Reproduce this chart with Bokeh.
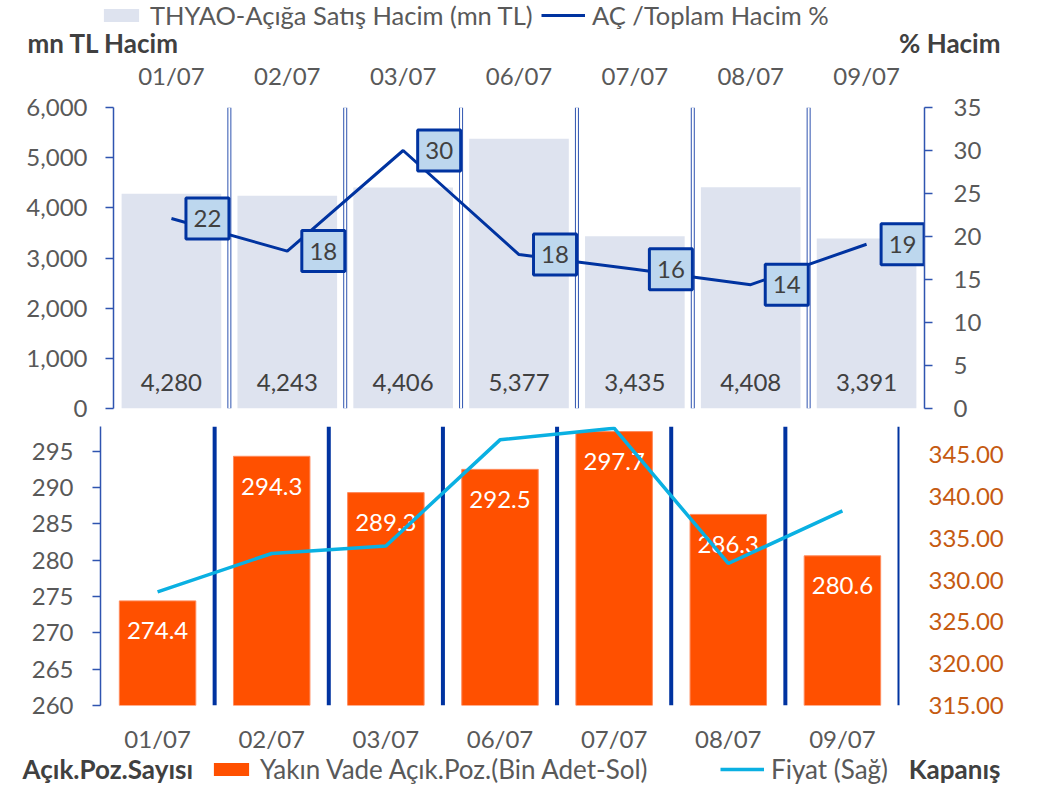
from bokeh.plotting import figure
from bokeh.layouts import column
from bokeh.models import (Range1d, LinearAxis, FixedTicker, NumeralTickFormatter,
                          ColumnDataSource, Legend, LegendItem, Label)
from bokeh.transform import dodge
from bokeh.embed import file_html
from bokeh.resources import INLINE
from bokeh.core.properties import value

# ---------------- data ----------------
dates = ["01/07", "02/07", "03/07", "06/07", "07/07", "08/07", "09/07"]
short_volume = [4280, 4243, 4406, 5377, 3435, 4408, 3391]          # mn TL
short_pct = [22.1, 18.3, 30.0, 17.9, 16.2, 14.4, 19.1]             # %
open_interest = [274.4, 294.3, 289.3, 292.5, 297.7, 286.3, 280.6]  # bin adet
close_price = [328.6, 333.2, 334.1, 346.8, 348.2, 332.0, 338.3]    # TL

vol_ticks = [0, 1000, 2000, 3000, 4000, 5000, 6000]
pct_ticks = [0, 5, 10, 15, 20, 25, 30, 35]
oi_ticks = [260, 265, 270, 275, 280, 285, 290, 295]
price_ticks = [315, 320, 325, 330, 335, 340, 345]
oi_max = 298.4
price_max = 348.4

# ---------------- style ----------------
FONT = "Lato"
FS = "24px"
GRAY = "#595959"
DARK = "#404040"
AXBLUE = "#2F54B0"
NAVY = "#0033A0"
LAVENDER = "#DEE3EF"
ORANGE = "#FF5000"
CYAN = "#0AB0E2"
W = 1039
NAN = float("nan")

n = len(dates)
xs = [i + 0.5 for i in range(n)]
overrides = {x: d for x, d in zip(xs, dates)}


def no_align(p):
    if "frame_align" in p.properties():
        p.frame_align = False


def style_cat_axis(ax, standoff):
    ax.ticker = FixedTicker(ticks=xs)
    ax.major_label_overrides = overrides
    ax.axis_line_color = None
    ax.major_tick_line_color = None
    ax.minor_tick_line_color = None
    ax.major_label_text_font = FONT
    ax.major_label_text_font_size = FS
    ax.major_label_text_color = GRAY
    ax.major_label_standoff = standoff


def style_val_axis(ax, ticks, fmt, standoff, color=GRAY, line=True):
    ax.ticker = FixedTicker(ticks=ticks)
    ax.formatter = NumeralTickFormatter(format=fmt)
    ax.minor_tick_line_color = None
    ax.major_label_text_font = FONT
    ax.major_label_text_font_size = FS
    ax.major_label_text_color = color
    ax.major_label_standoff = standoff
    if line:
        ax.axis_line_color = AXBLUE
        ax.axis_line_width = 1.5
        ax.major_tick_line_color = AXBLUE
        ax.major_tick_line_width = 1.5
        ax.major_tick_out = 8
        ax.major_tick_in = 0
    else:
        ax.axis_line_color = None
        ax.major_tick_line_color = None
        ax.major_tick_out = 0
        ax.major_tick_in = 0


def strip_fig(height, y_top):
    """A figure whose frame is the whole canvas; data units = page pixels."""
    p = figure(width=W, height=height, frame_width=W, frame_height=height,
               x_range=Range1d(0, W), y_range=Range1d(y_top + height, y_top),
               x_axis_type=None, y_axis_type=None, title=None,
               output_backend="svg", toolbar_location=None,
               min_border_left=0, min_border_right=0,
               min_border_top=0, min_border_bottom=0)
    p.outline_line_color = None
    no_align(p)
    return p


def make_legend(renderer, label, x, cy, y_bottom, fs):
    return Legend(items=[LegendItem(label=label, renderers=[renderer])],
                  location=(x, y_bottom - cy - 16), orientation="horizontal",
                  glyph_width=44, glyph_height=16, label_height=32,
                  label_standoff=7, padding=0, margin=0, spacing=0,
                  background_fill_alpha=0, border_line_alpha=0,
                  label_text_font=FONT, label_text_font_size=fs,
                  label_text_color=GRAY)


def bold_label(p, x, y, text, align):
    p.add_layout(Label(x=x, y=y, text=text, text_font=FONT, text_font_size="26px",
                       text_font_style="bold", text_color=DARK,
                       text_align=align, text_baseline="middle"))


# ================= header (legend + axis titles) =================
H0 = 57
p0 = strip_fig(H0, 0)
leg_bar0 = p0.vbar(x=[NAN], top=[NAN], width=1, fill_color=LAVENDER, line_color=None)
leg_line0 = p0.line(x=[NAN], y=[NAN], line_color=NAVY, line_width=3)
p0.add_layout(make_legend(leg_bar0, "THYAO-Açığa Satış Hacim (mn TL)", 99, 15, H0, "25.5px"))
p0.add_layout(make_legend(leg_line0, "AÇ /Toplam Hacim %", 541, 15, H0, "25.5px"))
bold_label(p0, 27, 42, "mn TL Hacim", "left")
bold_label(p0, 1000, 42, "% Hacim", "right")

# ================= top panel =================
src1 = ColumnDataSource(dict(
    x=xs, vol=short_volume, vol_lbl=[f"{v:,}" for v in short_volume],
    base=[vol_ticks[0]] * n, pct=short_pct,
    pct_lbl=[f"{v:.0f}" for v in short_pct]))
b1 = list(range(1, n))

p1 = figure(width=W, height=51 + 301 + 14, frame_width=811, frame_height=301,
            x_range=Range1d(0, n), y_range=Range1d(vol_ticks[0], vol_ticks[-1]),
            x_axis_location="above", title=None,
            output_backend="svg", toolbar_location=None,
            min_border_left=113, min_border_right=W - 113 - 811,
            min_border_top=30, min_border_bottom=14)
no_align(p1)
p1.extra_y_ranges = {"pct": Range1d(pct_ticks[0], pct_ticks[-1])}
p1.outline_line_color = None
p1.grid.visible = False

style_cat_axis(p1.xaxis[0], 12)
style_val_axis(p1.yaxis[0], vol_ticks, "0,0", 18)
ax_r1 = LinearAxis(y_range_name="pct")
style_val_axis(ax_r1, pct_ticks, "0", 21)
p1.add_layout(ax_r1, "right")

p1.vbar(x="x", top="vol", width=0.86, source=src1,
        fill_color=LAVENDER, line_color=None)
p1.segment(x0=b1, x1=b1, y0=vol_ticks[0], y1=vol_ticks[-1],
           line_color=AXBLUE, line_width=4)
p1.segment(x0=b1, x1=b1, y0=vol_ticks[0], y1=vol_ticks[-1],
           line_color="white", line_width=2)
p1.text(x="x", y="base", text="vol_lbl", source=src1, y_offset=-26,
        text_align="center", text_baseline="middle",
        text_font=value(FONT), text_font_size=FS, text_color=DARK)
p1.line(x="x", y="pct", source=src1, y_range_name="pct",
        line_color=NAVY, line_width=3)
p1.rect(x=dodge("x", 0.311), y="pct", width=43, height=41,
        width_units="screen", height_units="screen", source=src1,
        y_range_name="pct", fill_color="#BDD7EE", line_color=NAVY, line_width=3)
p1.text(x=dodge("x", 0.311), y="pct", text="pct_lbl", source=src1,
        y_range_name="pct", text_align="center", text_baseline="middle",
        text_font=value(FONT), text_font_size=FS, text_color=DARK)

# ================= bottom panel =================
src2 = ColumnDataSource(dict(
    x=xs, oi=open_interest, oi_lbl=[f"{v:.1f}" for v in open_interest],
    price=close_price))
b2 = list(range(1, n + 1))

p2 = figure(width=W, height=4 + 279 + 52, frame_width=799, frame_height=279,
            x_range=Range1d(0, n), y_range=Range1d(oi_ticks[0], oi_max),
            title=None, output_backend="svg", toolbar_location=None,
            min_border_left=100, min_border_right=W - 100 - 799,
            min_border_top=4, min_border_bottom=52)
no_align(p2)
p2.extra_y_ranges = {"price": Range1d(price_ticks[0], price_max)}
p2.outline_line_color = None
p2.grid.visible = False

style_cat_axis(p2.xaxis[0], 12)
style_val_axis(p2.yaxis[0], oi_ticks, "0", 19)
ax_r2 = LinearAxis(y_range_name="price")
style_val_axis(ax_r2, price_ticks, "0.00", 29, color="#C55A11", line=False)
p2.add_layout(ax_r2, "right")

p2.vbar(x="x", top="oi", bottom=oi_ticks[0], width=0.67, source=src2,
        fill_color=ORANGE, line_color="#FF8A5C", line_width=1)
p2.segment(x0=b2, x1=b2, y0=oi_ticks[0], y1=oi_max,
           line_color=NAVY, line_width=4)
p2.text(x="x", y="oi", text="oi_lbl", source=src2, y_offset=30,
        text_align="center", text_baseline="middle",
        text_font=value(FONT), text_font_size=FS, text_color="white")
p2.line(x="x", y="price", source=src2, y_range_name="price",
        line_color=CYAN, line_width=3.5)

# ================= footer (legend) =================
OVERLAP = 12
Y3 = 758 - OVERLAP
H3 = 789 - Y3
p3 = strip_fig(H3, Y3)
p3.margin = (-OVERLAP, 0, 0, 0)
p3.background_fill_alpha = 0
p3.border_fill_alpha = 0
leg_bar3 = p3.vbar(x=[NAN], top=[NAN], width=1, fill_color=ORANGE, line_color=None)
leg_line3 = p3.line(x=[NAN], y=[NAN], line_color=CYAN, line_width=3.5)
p3.add_layout(make_legend(leg_bar3, "Yakın Vade Açık.Poz.(Bin Adet-Sol)",
                          209, 770, Y3 + H3, "26px"))
p3.add_layout(make_legend(leg_line3, "Fiyat (Sağ)", 720, 770, Y3 + H3, "26px"))
bold_label(p3, 22, 769, "Açık.Poz.Sayısı", "left")
bold_label(p3, 1000, 769, "Kapanış", "right")

layout = column(p0, p1, p2, p3, spacing=0)
open("out.html", "w").write(file_html(layout, INLINE))
